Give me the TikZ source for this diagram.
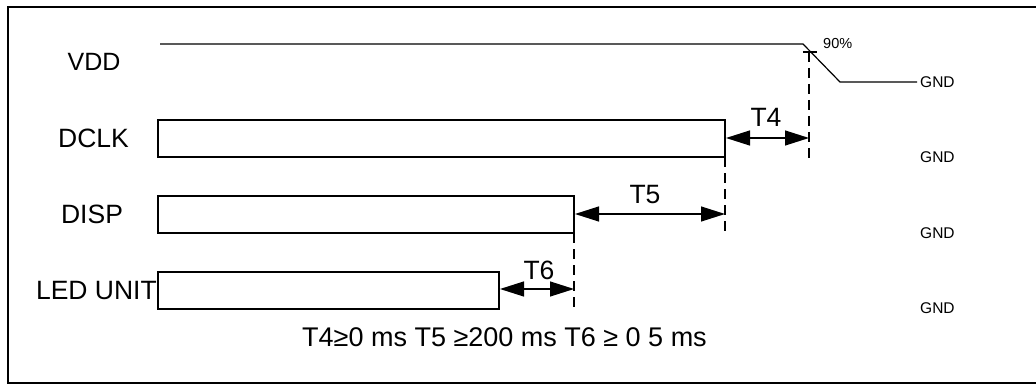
\documentclass[tikz,border=0pt]{standalone}
\usepackage{fontspec}
\setmainfont{Liberation Sans}
\usetikzlibrary{arrows.meta}
\tikzset{
  sig/.style={line width=1.2pt},
  frame/.style={line width=1.8pt},
  sigbox/.style={draw, line width=1.2pt, rectangle, inner sep=0pt, outer sep=0pt, anchor=north west},
  dashline/.style={line width=1.2pt, dash pattern=on 10pt off 6pt},
  dim/.style={line width=1.2pt, {Triangle[length=24pt,width=15pt]}-{Triangle[length=24pt,width=15pt]}},
  lab/.style={inner sep=0pt, font=\fontsize{26.5}{30}\selectfont},
  gnd/.style={inner sep=0pt, anchor=west, font=\fontsize{15.5}{18}\selectfont},
}
\begin{document}
\begin{tikzpicture}[x=1pt, y=-1pt]
\useasboundingbox (0,0) rectangle (1036,385);
% frame
\draw[frame] (1040,7) -- (8,7) -- (8,383) -- (1040,383);

% labels
\node[lab, font=\fontsize{25}{28}\selectfont] (lvdd) at (94,62) {VDD};
\node[lab] (ldclk) at (93.5,138) {DCLK};
\node[lab] (ldisp) at (92,214) {DISP};
\node[lab, anchor=east] (lled) at (157,291) {LED UNIT};

% VDD waveform
\coordinate (v0) at (160,44);
\coordinate (v1) at (803,44);
\coordinate (v2) at (840,82);
\coordinate (v3) at (917,82);
\draw[sig] (v0) -- (v1) -- (v2) -- (v3);
\node[gnd] (g1) at (920,82) {GND};
\node[inner sep=0pt, anchor=west, font=\fontsize{14.5}{16}\selectfont] (p90) at (823,44) {90\%};

% boxes
\node[sigbox, minimum width=567pt, minimum height=37pt] (dclk) at (158,120) {};
\node[sigbox, minimum width=416pt, minimum height=37pt] (disp) at (158,196) {};
\node[sigbox, minimum width=341pt, minimum height=37pt] (led) at (158,272) {};

\node[gnd] (g2) at (920,157) {GND};
\node[gnd] (g3) at (920,233) {GND};
\node[gnd] (g4) at (920,308) {GND};

% 90% tick and dashed line
\coordinate (tk0) at (803,52);
\coordinate (tk1) at (817,52);
\draw[sig] (tk0) -- (tk1);
\coordinate (d4top) at (809,52);
\coordinate (d4bot) at (809,158);
\draw[dashline] (d4top) -- (d4bot);

% dashed from DCLK end
\coordinate (d5bot) at (725,234);
\draw[dashline] (dclk.south east) -- (d5bot);
% dashed from DISP end
\coordinate (d6bot) at (574,310);
\draw[dashline] (disp.south east) -- (d6bot);

% T4
\coordinate (t4l) at (726,138);
\coordinate (t4r) at (809,138);
\draw[dim] (t4l) -- (t4r);
\node[lab] (lt4) at (766,117) {T4};
% T5
\coordinate (t5l) at (575,214);
\coordinate (t5r) at (725,214);
\draw[dim] (t5l) -- (t5r);
\node[lab] (lt5) at (645,195) {T5};
% T6
\coordinate (t6l) at (500,289);
\coordinate (t6r) at (574,289);
\draw[dim] (t6l) -- (t6r);
\node[lab] (lt6) at (539,270) {T6};

% bottom note
\node[inner sep=0pt, anchor=west, font=\fontsize{27}{30}\selectfont] (note) at (302,337) {T4≥0 ms T5 ≥200 ms T6 ≥ 0 5 ms};
\end{tikzpicture}
\end{document}
